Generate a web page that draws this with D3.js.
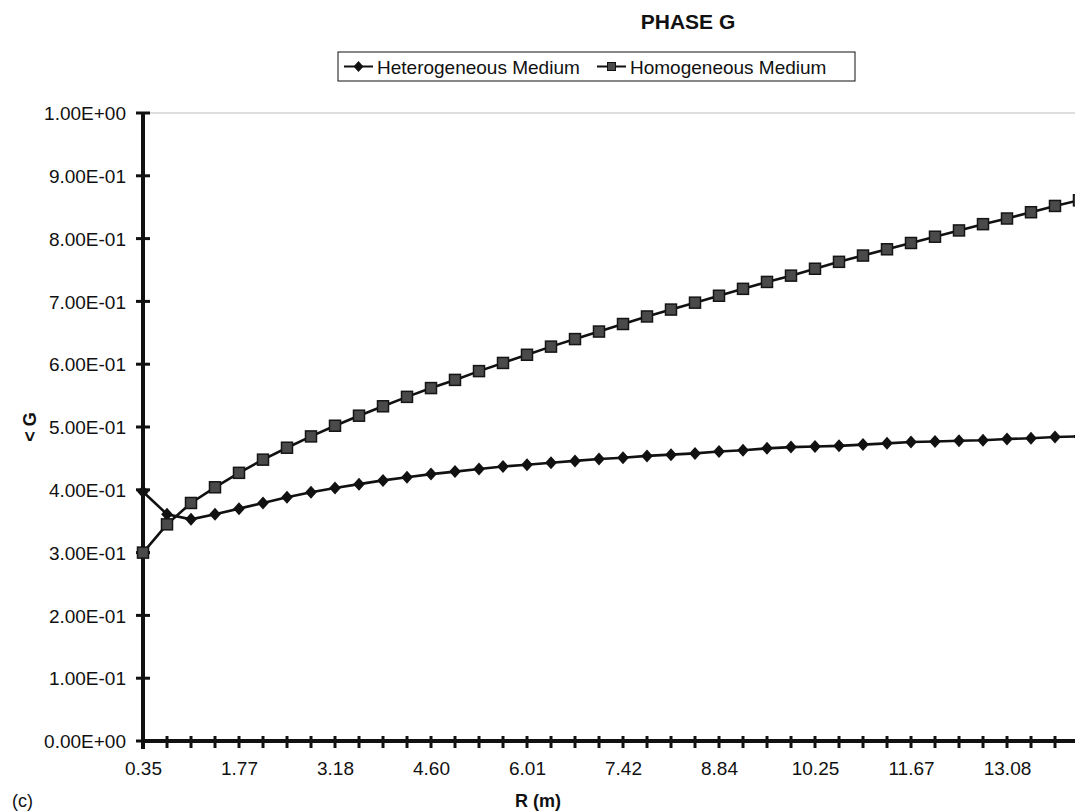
<!DOCTYPE html>
<html>
<head>
<meta charset="utf-8">
<script src="https://cdn.jsdelivr.net/npm/d3@7/dist/d3.min.js"></script>
<style>
  html, body { margin: 0; padding: 0; background: #fff; }
  svg { display: block; font-family: "Liberation Sans", Arial, sans-serif; }
</style>
</head>
<body>
<svg id="chart" width="1075" height="812"></svg>
<script>
// ---- data ----
const categories = ["0.35","0.71","1.06","1.41","1.77","2.12","2.47","2.83","3.18","3.54",
  "3.89","4.24","4.60","4.95","5.30","5.66","6.01","6.36","6.72","7.07",
  "7.42","7.78","8.13","8.49","8.84","9.19","9.55","9.90","10.25","10.61",
  "10.96","11.31","11.67","12.02","12.37","12.73","13.08","13.44","13.79","14.14"];
const heterogeneous = [0.397,0.361,0.353,0.361,0.370,0.379,0.388,0.396,0.403,0.409,
  0.415,0.420,0.425,0.429,0.433,0.437,0.440,0.443,0.446,0.449,
  0.451,0.454,0.456,0.458,0.461,0.463,0.466,0.468,0.469,0.470,
  0.472,0.474,0.476,0.477,0.478,0.479,0.481,0.482,0.484,0.485];
const homogeneous = [0.300,0.345,0.379,0.404,0.427,0.448,0.467,0.485,0.502,0.518,
  0.533,0.548,0.562,0.575,0.589,0.602,0.615,0.628,0.640,0.652,
  0.664,0.676,0.687,0.698,0.709,0.720,0.731,0.741,0.752,0.763,
  0.773,0.783,0.793,0.803,0.813,0.823,0.832,0.842,0.852,0.861];
const yTicks = [0,0.1,0.2,0.3,0.4,0.5,0.6,0.7,0.8,0.9,1.0];
const xLabelEvery = 4;
const seriesNames = ["Heterogeneous Medium","Homogeneous Medium"];
const title = "PHASE G";
const xTitle = "R (m)";
const yTitle = "< G";

// ---- layout ----
const svg = d3.select("#chart");
const x0 = 143, step = 24, yTop = 113, yBot = 741;
const x = d3.scalePoint().domain(categories).range([x0, x0 + step * (categories.length - 1)]);
const y = d3.scaleLinear().domain([0, 1]).range([yBot, yTop]);

function fmtE(v) {
  if (v === 0) return "0.00E+00";
  let e = Math.floor(Math.log10(v) + 1e-9);
  let m = v / Math.pow(10, e);
  const sign = e < 0 ? "-" : "+";
  return m.toFixed(2) + "E" + sign + String(Math.abs(e)).padStart(2, "0");
}

// top border of plot area
svg.append("line").attr("x1", x0).attr("x2", 1075).attr("y1", yTop).attr("y2", yTop)
  .attr("stroke", "#bdbdbd").attr("stroke-width", 1);

// x axis
const xAxis = d3.axisBottom(x)
  .tickSizeInner(0).tickSizeOuter(0)
  .tickFormat((d, i) => i % xLabelEvery === 0 ? d : "");
const gx = svg.append("g").attr("transform", `translate(0,${yBot})`).call(xAxis);
gx.select(".domain").remove();
gx.selectAll(".tick line").remove();
gx.selectAll(".tick text").attr("y", 34).attr("dy", 0)
  .style("font-size", "19px").attr("fill", "#111");
// x ticks (cross)
svg.append("g").selectAll("line").data(categories).join("line")
  .attr("x1", d => x(d)).attr("x2", d => x(d))
  .attr("y1", yBot - 5).attr("y2", yBot + 7)
  .attr("stroke", "#111").attr("stroke-width", 3);
svg.append("line").attr("x1", x0).attr("x2", 1075).attr("y1", yBot).attr("y2", yBot)
  .attr("stroke", "#111").attr("stroke-width", 4);

// y axis
const yAxis = d3.axisLeft(y).tickValues(yTicks).tickSizeInner(0).tickSizeOuter(0).tickFormat(fmtE);
const gy = svg.append("g").attr("transform", `translate(${x0},0)`).call(yAxis);
gy.select(".domain").remove();
gy.selectAll(".tick line").remove();
gy.selectAll(".tick text").attr("x", -17).attr("dy", "0.35em")
  .style("font-size", "19px").attr("fill", "#111");
svg.append("g").selectAll("line").data(yTicks).join("line")
  .attr("x1", x0 - 7).attr("x2", x0 + 7)
  .attr("y1", d => y(d)).attr("y2", d => y(d))
  .attr("stroke", "#111").attr("stroke-width", 3);
svg.append("line").attr("x1", x0).attr("x2", x0).attr("y1", yTop).attr("y2", yBot + 8)
  .attr("stroke", "#111").attr("stroke-width", 4);

// series
const line = d3.line().x((d, i) => x(categories[i])).y(d => y(d));
function diamondPath(cx, cy, r) {
  return `M${cx},${cy - r}L${cx + r * 0.9},${cy}L${cx},${cy + r}L${cx - r * 0.9},${cy}Z`;
}

svg.append("path").datum(heterogeneous).attr("d", line)
  .attr("fill", "none").attr("stroke", "#111").attr("stroke-width", 2.6);
svg.append("path").datum(homogeneous).attr("d", line)
  .attr("fill", "none").attr("stroke", "#111").attr("stroke-width", 2.6);

svg.append("g").selectAll("path").data(heterogeneous).join("path")
  .attr("d", (d, i) => diamondPath(x(categories[i]), y(d), 6.5))
  .attr("fill", "#111");
svg.append("g").selectAll("rect").data(homogeneous).join("rect")
  .attr("x", (d, i) => x(categories[i]) - 5.5).attr("y", d => y(d) - 5.5)
  .attr("width", 11).attr("height", 11)
  .attr("fill", "#4a4a4a").attr("stroke", "#151515").attr("stroke-width", 1.5);

// title
svg.append("text").attr("x", 688).attr("y", 29).attr("text-anchor", "middle")
  .style("font-size", "21px").style("font-weight", "bold").attr("fill", "#111").text(title);

// legend
const lg = svg.append("g");
lg.append("rect").attr("x", 338).attr("y", 52).attr("width", 517).attr("height", 29)
  .attr("fill", "#fff").attr("stroke", "#111").attr("stroke-width", 1);
const legItems = [
  { name: seriesNames[0], sx: 344, tx: 377, kind: "diamond" },
  { name: seriesNames[1], sx: 597, tx: 630, kind: "square" }
];
legItems.forEach(it => {
  lg.append("line").attr("x1", it.sx).attr("x2", it.sx + 29).attr("y1", 66.5).attr("y2", 66.5)
    .attr("stroke", "#111").attr("stroke-width", 2);
  if (it.kind === "diamond") {
    lg.append("path").attr("d", diamondPath(it.sx + 14.5, 66.5, 5.5)).attr("fill", "#111");
  } else {
    lg.append("rect").attr("x", it.sx + 10.5).attr("y", 62.5).attr("width", 8).attr("height", 8)
      .attr("fill", "#4a4a4a").attr("stroke", "#111").attr("stroke-width", 1);
  }
  lg.append("text").attr("x", it.tx).attr("y", 73.5).style("font-size", "19px")
    .attr("fill", "#111").text(it.name);
});

// axis titles
svg.append("text").attr("x", 538).attr("y", 807).attr("text-anchor", "middle")
  .style("font-size", "18px").style("font-weight", "bold").attr("fill", "#111").text(xTitle);
svg.append("text").attr("transform", "translate(36,427) rotate(-90)").attr("text-anchor", "middle")
  .style("font-size", "18px").style("font-weight", "bold").attr("fill", "#111").text(yTitle);
svg.append("text").attr("x", 12).attr("y", 807).style("font-size", "18px")
  .attr("fill", "#111").text("(c)");
</script>
</body>
</html>
